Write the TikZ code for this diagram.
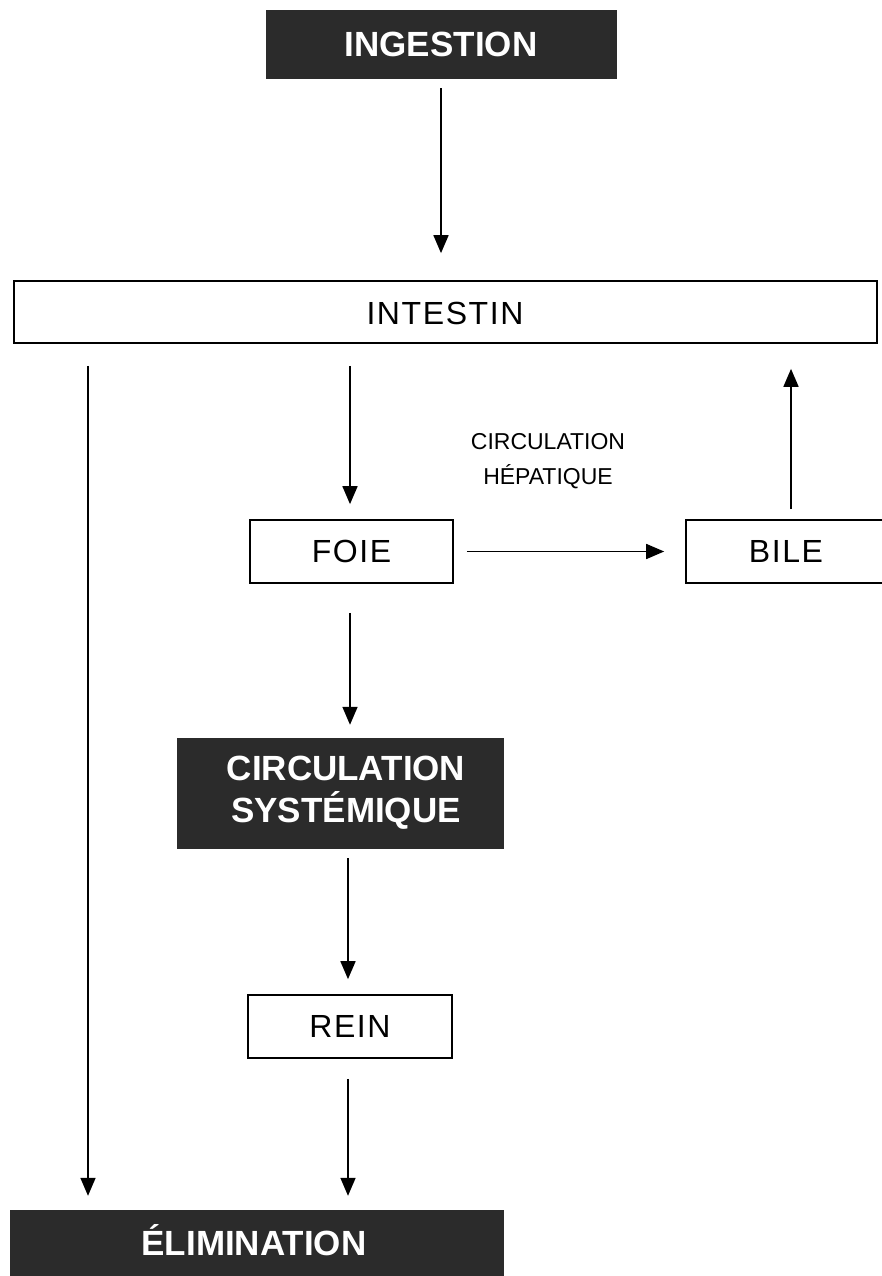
\documentclass[tikz,border=0pt]{standalone}
\usepackage{fontspec}
\setmainfont{Liberation Sans}
\usetikzlibrary{arrows.meta}
\definecolor{darkbox}{HTML}{2B2B2B}
\tikzset{
  darkbox/.style={fill=darkbox, draw=darkbox, text=white, font=\fontsize{35}{40}\selectfont\bfseries, align=center, inner sep=0pt},
  lightbox/.style={draw=black, line width=1.7pt, fill=white, inner sep=0pt},
  lighttext/.style={font=\fontsize{32}{36}\selectfont\addfontfeatures{LetterSpace=5}, inner sep=0pt},
  arr/.style={draw=black, line width=1.7pt, -{Triangle[width=15pt,length=18pt]}},
  smalllabel/.style={font=\fontsize{23}{35}\selectfont, align=center, inner sep=0pt}
}
\begin{document}
\begin{tikzpicture}[x=1pt,y=-1pt]
\useasboundingbox (0,0) rectangle (881,1276);
\node[darkbox, minimum width=350pt, minimum height=68pt] (ing) at (441,44) {INGESTION};
\node[lightbox, minimum width=863pt, minimum height=62pt] (int) at (445.5,312) {};
\node[lighttext] (intt) at (445,313) {INTESTIN};
\node[lightbox, lighttext, minimum width=203pt, minimum height=63pt] (foie) at (351.5,551.5) {FOIE};
\node[lightbox, lighttext, minimum width=200pt, minimum height=63pt] (bile) at (786,551.5) {BILE};
\node[smalllabel] (hep) at (548,461) {CIRCULATION\\HÉPATIQUE};
\node[darkbox, minimum width=326pt, minimum height=110pt] (cs) at (340,793) {};
\node[text=white, font=\fontsize{35}{42}\selectfont\bfseries, align=center, inner sep=0pt] (cst) at (346,793) {CIRCULATION\\SYSTÉMIQUE};
\node[lightbox, lighttext, minimum width=204pt, minimum height=63pt] (rein) at (350,1026.5) {REIN};
\node[darkbox, minimum width=493pt, minimum height=70pt] (elim) at (256.5,1245) {};
\node[text=white, font=\fontsize{35}{40}\selectfont\bfseries, inner sep=0pt] (elimt) at (254,1240) {ÉLIMINATION};
\coordinate (xl) at (88,0);
\coordinate (xm) at (350,0);
\coordinate (xr) at (791,0);
\coordinate (xb) at (348,0);
\coordinate (xi) at (441,0);
\draw[arr, shorten <=10pt, shorten >=27pt] (ing.south -| xi) -- (int.north -| xi);
\draw[arr, shorten <=22pt, shorten >=14pt] (int.south -| xl) -- (elim.north -| xl);
\draw[arr, shorten <=22pt, shorten >=15pt] (int.south -| xm) -- (foie.north -| xm);
\draw[arr, shorten <=10pt, shorten >=25pt] (bile.north -| xr) -- (int.south -| xr);
\draw[arr, shorten <=13pt, shorten >=21pt] (foie.east) -- (bile.west |- foie.east);
\draw[arr, shorten <=29pt, shorten >=13pt] (foie.south -| xm) -- (cs.north -| xm);
\draw[arr, shorten <=10pt, shorten >=15pt] (cs.south -| xb) -- (rein.north -| xb);
\draw[arr, shorten <=20pt, shorten >=14pt] (rein.south -| xb) -- (elim.north -| xb);
\end{tikzpicture}
\end{document}
